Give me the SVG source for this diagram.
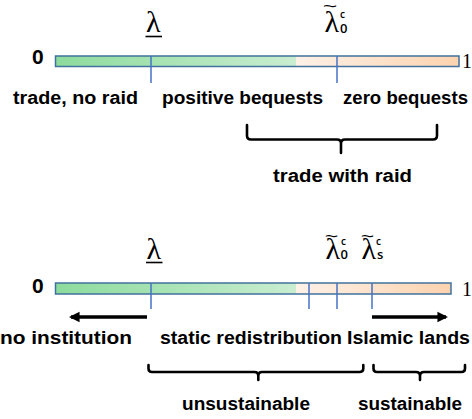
<svg xmlns="http://www.w3.org/2000/svg" width="472" height="419" viewBox="0 0 472 419">
<style>
.lbl{font-family:"Liberation Sans",Arial,sans-serif;font-weight:bold;font-size:18px;fill:#000}
.zero{font-family:"Liberation Sans",Arial,sans-serif;font-weight:bold;font-size:21px;fill:#000}
.one{font-family:"Liberation Serif","Times New Roman",serif;font-size:20px;fill:#000}
.lam{font-family:"Liberation Serif","Times New Roman",serif;font-size:30px;fill:#000}
.til{font-family:"Liberation Sans",Arial,sans-serif;font-weight:bold;font-size:10px;fill:#000}
.sup{font-family:"Open Sans","Liberation Sans",sans-serif;font-weight:600;font-size:10px;fill:#000}
.sub{font-family:"Open Sans","Liberation Sans",sans-serif;font-weight:600;font-size:13px;fill:#000}
.tick{stroke:#4472C4;stroke-width:1.5;fill:none}
.frame{stroke:#41719C;stroke-width:1.5;fill:none}
.brace{stroke:#000;stroke-width:2.6;fill:none;stroke-linejoin:round;stroke-linecap:round}
.arrow{stroke:#000;stroke-width:3.3;fill:none}
</style>
<defs>
<linearGradient id="gG" x1="0" x2="1" y1="0" y2="0">
<stop offset="0" stop-color="#8DDB9D"/><stop offset="1" stop-color="#C9EDD0"/>
</linearGradient>
<linearGradient id="gO" x1="0" x2="1" y1="0" y2="0">
<stop offset="0" stop-color="#FEF1E7"/><stop offset="1" stop-color="#FCD3AF"/>
</linearGradient>
<marker id="ah" markerWidth="4" markerHeight="4" refX="2.6" refY="2" orient="auto" markerUnits="strokeWidth">
<path d="M0,0.4 L3.2,2 L0,3.6 Z" fill="#000"/>
</marker>
</defs>

<g id="bar1">
<rect x="55.5" y="56" width="240.5" height="10.5" fill="url(#gG)"/>
<rect x="296" y="56" width="163" height="10.5" fill="url(#gO)"/>
<rect class="frame" x="55.5" y="56" width="403.5" height="10.5"/>
<line class="tick" x1="151" y1="56" x2="151" y2="83"/>
<line class="tick" x1="337" y1="56" x2="337" y2="83"/>
<text class="zero" x="32" y="63.5">0</text>
<text class="one" x="462" y="68">1</text>
</g>

<g id="labels1">
<text class="lam" x="146" y="32">λ</text>
<line x1="145.5" y1="36.5" x2="162" y2="36.5" stroke="#000" stroke-width="1.6"/>
<text class="til" x="323" y="10" textLength="14" lengthAdjust="spacingAndGlyphs">~</text>
<text class="lam" x="324.5" y="32">λ</text>
<text class="sup" x="340" y="17.5">c</text>
<text class="sub" x="340" y="33">0</text>
<text class="lbl" x="13" y="103.5" textLength="125" lengthAdjust="spacingAndGlyphs">trade, no raid</text>
<text class="lbl" x="162" y="103.5" textLength="161" lengthAdjust="spacingAndGlyphs">positive bequests</text>
<text class="lbl" x="343" y="103.5" textLength="125" lengthAdjust="spacingAndGlyphs">zero bequests</text>
</g>

<g id="brace1">
<path class="brace" d="M247,125 V135.5 Q247,139.5 251,139.5 H337 Q341,139.5 341,143.5 V153 M341,143.5 Q341,139.5 345,139.5 H433 Q437,139.5 437,135.5 V125"/>
<text class="lbl" x="273" y="182" textLength="139" lengthAdjust="spacingAndGlyphs">trade with raid</text>
</g>

<g id="bar2">
<rect x="55.5" y="283" width="240.5" height="11" fill="url(#gG)"/>
<rect x="296" y="283" width="155" height="11" fill="url(#gO)"/>
<rect class="frame" x="55.5" y="283" width="395.5" height="11"/>
<line class="tick" x1="151" y1="283" x2="151" y2="309"/>
<line class="tick" x1="309" y1="283" x2="309" y2="309"/>
<line class="tick" x1="337" y1="283" x2="337" y2="309"/>
<line class="tick" x1="372" y1="283" x2="372" y2="309"/>
<text class="zero" x="32" y="292.5">0</text>
<text class="one" x="462" y="295.5">1</text>
</g>

<g id="labels2">
<text class="lam" x="146.5" y="259">λ</text>
<line x1="146" y1="262.5" x2="162.5" y2="262.5" stroke="#000" stroke-width="1.6"/>
<text class="til" x="325" y="239.5" textLength="13" lengthAdjust="spacingAndGlyphs">~</text>
<text class="lam" x="325.5" y="258.5">λ</text>
<text class="sup" x="341" y="245">c</text>
<text class="sub" x="340.5" y="258.5">0</text>
<text class="til" x="361" y="239.5" textLength="13" lengthAdjust="spacingAndGlyphs">~</text>
<text class="lam" x="361.5" y="258.5">λ</text>
<text class="sup" x="376" y="245">c</text>
<text class="sub" x="377" y="258.5">s</text>
</g>

<g id="connectors">
<line class="arrow" x1="147" y1="317" x2="71" y2="317" marker-end="url(#ah)"/>
<line class="arrow" x1="372" y1="317" x2="446" y2="317" marker-end="url(#ah)"/>
<path class="brace" d="M148.5,365 V368.5 Q148.5,372 152,372 H254.5 Q258.3,372 258.3,376 V380 M258.3,376 Q258.3,372 262,372 H359.5 Q363.3,372 363.3,368.5 V365"/>
<path class="brace" d="M373.5,365 V368.5 Q373.5,372 377,372 H416 Q420,372 420,376 V380 M420,376 Q420,372 424,372 H461.5 Q465,372 465,368.5 V365"/>
</g>

<g id="labels3">
<text class="lbl" x="0" y="343.5" textLength="132" lengthAdjust="spacingAndGlyphs">no institution</text>
<text class="lbl" x="160" y="343.5" textLength="182" lengthAdjust="spacingAndGlyphs">static redistribution</text>
<text class="lbl" x="347" y="343.5" textLength="123" lengthAdjust="spacingAndGlyphs">Islamic lands</text>
<text class="lbl" x="182" y="410" textLength="128" lengthAdjust="spacingAndGlyphs">unsustainable</text>
<text class="lbl" x="358" y="410" textLength="104" lengthAdjust="spacingAndGlyphs">sustainable</text>
</g>
</svg>
